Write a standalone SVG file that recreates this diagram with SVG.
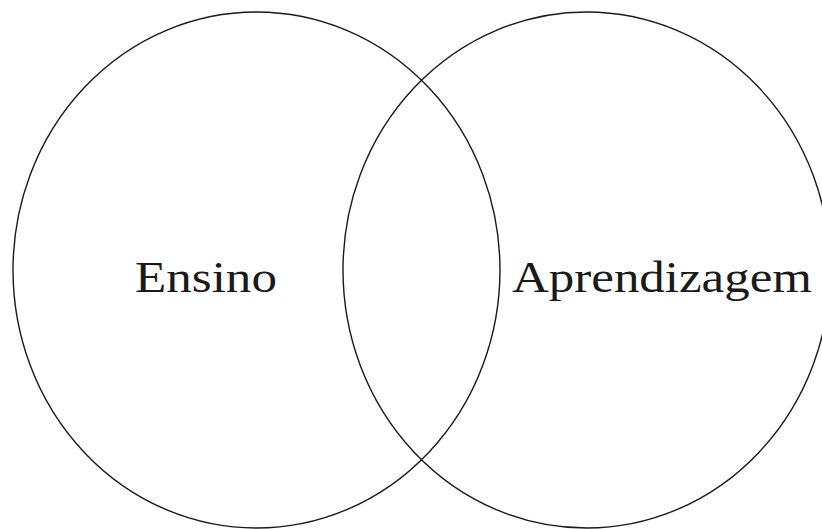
<svg xmlns="http://www.w3.org/2000/svg" width="822" height="529" viewBox="0 0 822 529">
<style>
.c{fill:none;stroke:#1a1a1a;stroke-width:1.4}
.t{font-family:"Liberation Serif","Times New Roman",serif;font-size:45px;fill:#1a1a1a}
</style>
<rect width="822" height="529" fill="#fff"/>
<g id="ensino">
<ellipse class="c" cx="256.5" cy="270" rx="243.5" ry="258"/>
<text class="t" x="135" y="292" textLength="142" lengthAdjust="spacingAndGlyphs">Ensino</text>
</g>
<g id="aprendizagem">
<ellipse class="c" cx="586.6" cy="270" rx="243.6" ry="258"/>
<text class="t" x="512" y="292" textLength="300" lengthAdjust="spacingAndGlyphs">Aprendizagem</text>
</g>
<g id="connectors"/>
</svg>
